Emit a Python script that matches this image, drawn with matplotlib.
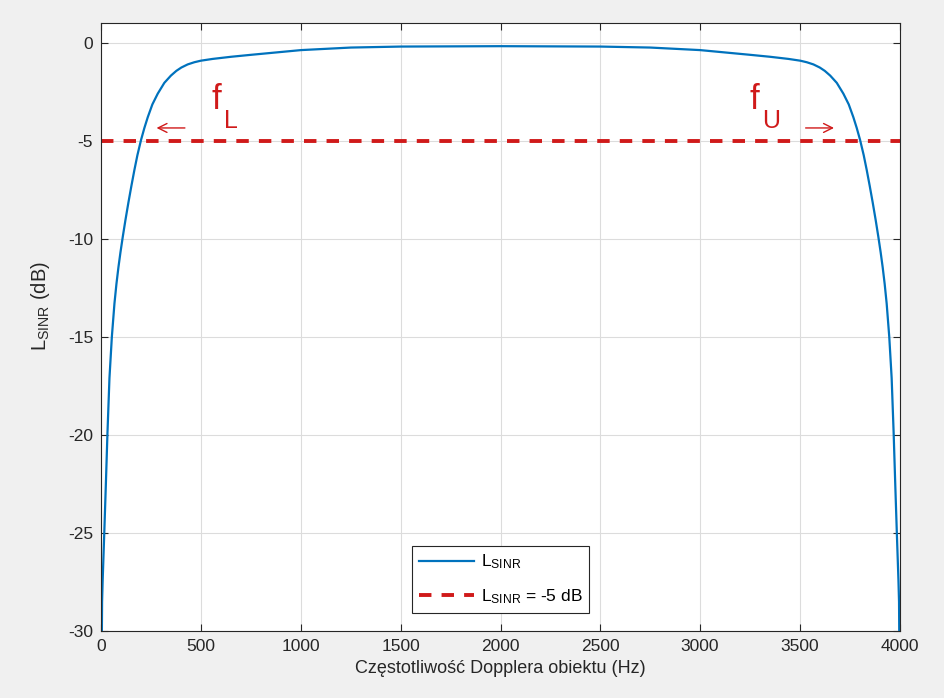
import numpy as np
import matplotlib
matplotlib.use("Agg")
import matplotlib.pyplot as plt

# =====================================================
# DADOS
# =====================================================
# lewa połowa krzywej (0 .. 2000 Hz)
freq_left = [0, 3, 6, 14, 22, 30, 40, 52, 65, 75,
             85, 95, 107, 120, 135, 150, 165, 180, 198, 215,
             232, 255, 282, 315, 348, 375, 400, 432, 465, 498,
             557, 650, 750, 875, 1000, 1250, 1500, 2000]
lsinr_left = [-33, -28.5, -27.4, -25.0, -22.5, -19.9, -17.1, -15.0, -13.3, -12.3,
              -11.45, -10.7, -9.88, -9.05, -8.15, -7.3, -6.49, -5.74, -4.97, -4.35,
              -3.8, -3.15, -2.6, -2.05, -1.68, -1.44, -1.27, -1.11, -1.0, -0.92,
              -0.83, -0.72, -0.62, -0.5, -0.38, -0.25, -0.2, -0.18]

# prawa połowa krzywej (2500 .. 4000 Hz)
freq_right = [2500, 2750, 3000, 3125, 3250, 3350, 3443, 3502, 3535, 3568,
              3600, 3625, 3652, 3685, 3718, 3745, 3768, 3785, 3802, 3820,
              3835, 3850, 3865, 3880, 3893, 3905, 3915, 3925, 3935, 3948,
              3960, 3970, 3978, 3986, 3994, 3997, 4000]
lsinr_right = [-0.2, -0.25, -0.38, -0.5, -0.62, -0.72, -0.83, -0.92, -1.0, -1.11,
               -1.27, -1.44, -1.68, -2.05, -2.6, -3.15, -3.8, -4.35, -4.97, -5.74,
               -6.49, -7.3, -8.15, -9.05, -9.88, -10.7, -11.45, -12.3, -13.3, -15.0,
               -17.1, -19.9, -22.5, -25.0, -27.4, -28.5, -33]

threshold_db = -5
x_ticks = [0, 500, 1000, 1500, 2000, 2500, 3000, 3500, 4000]
y_ticks = [-30, -25, -20, -15, -10, -5, 0]

BLUE = "#0072BD"
RED = "#D01A1A"
DARK = "#262626"

plt.rcParams["font.family"] = ["Liberation Sans", "DejaVu Sans"]
plt.rcParams["axes.unicode_minus"] = False
plt.rcParams["mathtext.fontset"] = "custom"
plt.rcParams["mathtext.rm"] = "Liberation Sans"

freq_hz = freq_left + freq_right
l_sinr_db = lsinr_left + lsinr_right

# =====================================================
# WYKRES
# =====================================================
fig = plt.figure(figsize=(9.44, 6.98), dpi=100, facecolor="#f0f0f0")
ax = fig.add_axes([0.1075, 0.096, 0.8455, 0.871])

ax.plot(freq_hz, l_sinr_db, color=BLUE, lw=1.6,
        label=r"$\mathregular{L_{SINR}}$")
ax.axhline(threshold_db, color=RED, lw=2.8, dashes=(3.2, 2.6),
           label=r"$\mathregular{L_{SINR}}$ = -5 dB")

ax.set_xlim(0, 4000)
ax.set_ylim(-30, 1)
ax.set_xticks(x_ticks)
ax.set_yticks(y_ticks)
ax.grid(True, color="#dcdcdc", lw=0.8)
ax.set_axisbelow(True)

ax.tick_params(direction="in", length=5, width=0.8, colors=DARK,
               labelsize=12.5, top=True, right=True, pad=6)
ax.tick_params(axis="x", labeltop=False)
for s in ax.spines.values():
    s.set_color(DARK)
    s.set_linewidth(0.8)

ax.set_xlabel("Częstotliwość Dopplera obiektu (Hz)", fontsize=13, color=DARK)
ax.set_ylabel(r"$\mathregular{L_{SINR}}$ (dB)", fontsize=14.5, color=DARK)
ax.yaxis.set_label_coords(-0.062, 0.535)

# opisy fL / fU
ax.text(550, -3.37, "f", color=RED, fontsize=25)
ax.text(612, -4.34, "L", color=RED, fontsize=18)
ax.text(3250, -3.37, "f", color=RED, fontsize=25)
ax.text(3310, -4.34, "U", color=RED, fontsize=18)
ax.annotate("", xy=(262, -4.35), xytext=(432, -4.35),
            arrowprops=dict(arrowstyle="->", color=RED, lw=1.0,
                            mutation_scale=16))
ax.annotate("", xy=(3685, -4.35), xytext=(3515, -4.35),
            arrowprops=dict(arrowstyle="->", color=RED, lw=1.0,
                            mutation_scale=16))

leg = ax.legend(loc="lower center", bbox_to_anchor=(0.5, 0.03),
                borderaxespad=0, fontsize=12.5, handlelength=3.2,
                handletextpad=0.35, labelspacing=0.9,
                fancybox=False, framealpha=1, edgecolor=DARK)
leg.get_frame().set_linewidth(0.8)

fig.savefig("out.png", dpi=100, facecolor=fig.get_facecolor())
